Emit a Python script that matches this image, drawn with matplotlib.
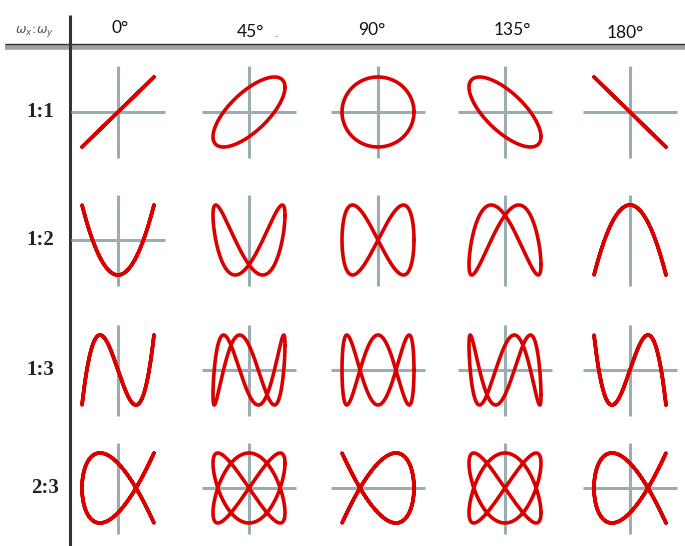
import numpy as np
import matplotlib
matplotlib.use("Agg")
import matplotlib.pyplot as plt

# ---- data ----
phase_labels = ["0°", "45°", "90°", "135°", "180°"]
phases_deg = [0, 45, 90, 135, 180]
ratio_labels = ["1:1", "1:2", "1:3", "2:3"]
freq_x = [1, 1, 1, 2]
freq_y = [1, 2, 3, 3]
# crosshair presence per cell: (horizontal, vertical)
cross_h = [
    [1, 1, 1, 1, 1],
    [1, 0, 0, 0, 0],
    [0, 1, 1, 1, 1],
    [0, 1, 1, 0, 1],
]
cross_v = [
    [1, 1, 1, 1, 1],
    [1, 1, 1, 1, 1],
    [1, 1, 0, 1, 1],
    [1, 1, 0, 1, 1],
]

# ---- layout (pixels) ----
W, H = 685, 546
col_cx = [118, 249, 378, 505, 630]
row_cy = [112, 240, 370, 488]
head_x = [120, 250, 372, 512, 625]
head_y = [28, 32, 30, 30, 33]
label_x = [40, 40, 40, 45]
rx, ry = 36, 35
half = 50

RED = "#d90000"
GRAY = "#9aaeb1"

fig = plt.figure(figsize=(W / 100, H / 100), dpi=100)
bg = fig.add_axes([0, 0, 1, 1])
bg.set_xlim(0, W)
bg.set_ylim(H, 0)
bg.axis("off")

# separators
bg.plot([5, W], [46.5, 46.5], color="#a0a0a0", lw=4.0, solid_capstyle="butt")
bg.plot([5, W], [43.8, 43.8], color="#333333", lw=1.0, solid_capstyle="butt")
bg.plot([70, 70], [15, H], color="#333333", lw=2.2, solid_capstyle="butt")

for lab, x, y in zip(phase_labels, head_x, head_y):
    bg.text(x, y, lab, fontsize=12.5, family="Lato", ha="center", va="center", color="#111111")
bg.text(276, 37, "-", fontsize=6, family="Lato", ha="center", va="center", color="#555555")

for lab, x, y in zip(ratio_labels, label_x, row_cy):
    bg.text(x, y, lab, fontsize=15, family="Liberation Serif", fontweight="bold",
            ha="center", va="center", color="#222222")
bg.text(34, 32, r"$\omega_x\!:\!\omega_y$", fontsize=9, ha="center", va="center", color="#555555")

t = np.linspace(0, 2 * np.pi, 1500)
for i in range(len(ratio_labels)):
    for j in range(len(phases_deg)):
        cx, cy = col_cx[j], row_cy[i]
        ax = fig.add_axes([(cx - half) / W, 1 - (cy + half) / H, 2 * half / W, 2 * half / H])
        ax.set_xlim(-half / rx, half / rx)
        ax.set_ylim(-half / ry, half / ry)
        ax.axis("off")
        if cross_h[i][j]:
            ax.plot([-1.3, 1.3], [0, 0], color=GRAY, lw=2.2, solid_capstyle="butt", zorder=1)
        if cross_v[i][j]:
            ax.plot([0, 0], [-1.3, 1.3], color=GRAY, lw=2.2, solid_capstyle="butt", zorder=1)
        ph = np.deg2rad(phases_deg[j])
        x = np.cos(freq_x[i] * t)
        y = np.cos(freq_y[i] * t + ph)
        ax.plot(x, y, color=RED, lw=2.6, zorder=2, solid_capstyle="round")

fig.savefig("out.png", dpi=100)
